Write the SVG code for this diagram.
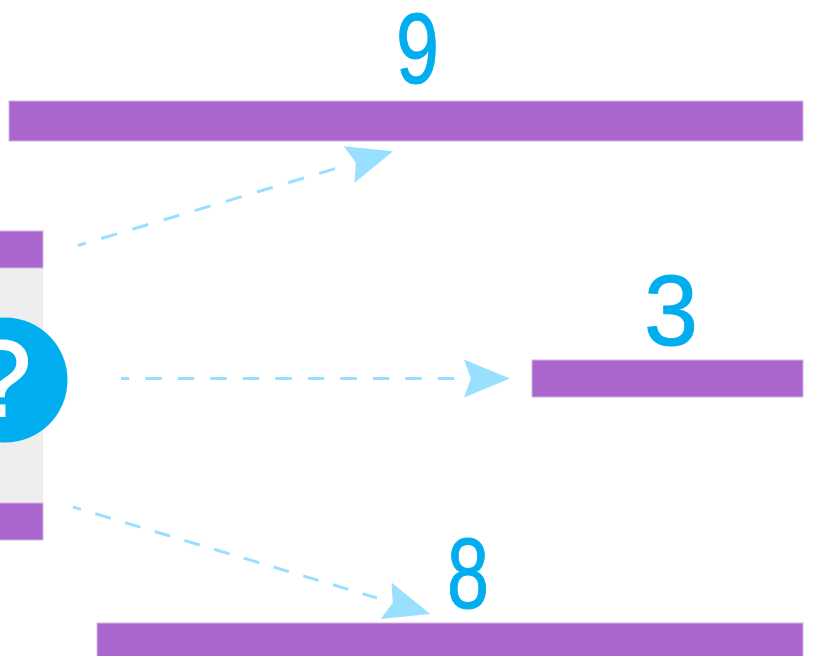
<svg xmlns="http://www.w3.org/2000/svg" width="813" height="656" viewBox="0 0 813 656">
<style>
.bar{fill:#aa66cc;stroke:#d4b3e6;stroke-width:1}
.num{font-family:"Liberation Sans",Arial,sans-serif;font-size:100px;fill:#00aeef;stroke:#00aeef;stroke-width:1;stroke-linejoin:round}
.link{fill:none;stroke:#99e0ff;stroke-width:3;stroke-dasharray:16.5 16;stroke-dashoffset:8.2}
</style>
<defs>
<marker id="arrow" markerUnits="userSpaceOnUse" markerWidth="50" markerHeight="42" refX="-9.5" refY="21" orient="auto">
<path d="M0 2 L46 21 L0 40 L7 21 Z" fill="#99e0ff"/>
</marker>
</defs>
<rect width="813" height="656" fill="#ffffff"/>
<g id="left-node">
<rect x="-2" y="268" width="45" height="235" fill="#eeeeee"/>
<rect class="bar" x="-2" y="231" width="45" height="37"/>
<rect class="bar" x="-2" y="503" width="45" height="37"/>
<circle cx="5" cy="380" r="62.5" fill="#00aeef"/>
<text x="1" y="416" text-anchor="middle" font-family="Liberation Sans, Arial, sans-serif" font-size="108" fill="#ffffff" stroke="#ffffff" stroke-width="2">?</text>
</g>
<g id="node-9">
<rect class="bar" x="9" y="101" width="794" height="40"/>
<text class="num" x="396" y="83" textLength="43" lengthAdjust="spacingAndGlyphs">9</text>
</g>
<g id="node-3">
<rect class="bar" x="532" y="360" width="271" height="37"/>
<text class="num" x="644" y="345" textLength="54" lengthAdjust="spacingAndGlyphs">3</text>
</g>
<g id="node-8">
<rect class="bar" x="97" y="623" width="706" height="40"/>
<text class="num" x="447" y="608" textLength="42" lengthAdjust="spacingAndGlyphs">8</text>
</g>
<g id="connectors">
<path class="link" d="M78 245.5 L340 167.2" marker-end="url(#arrow)"/>
<path class="link" d="M121 378.5 L454.4 378.5" marker-end="url(#arrow)"/>
<path class="link" style="stroke-dasharray:16 15;stroke-dashoffset:7.7" d="M73 507 L377 598" marker-end="url(#arrow)"/>
</g>
</svg>
